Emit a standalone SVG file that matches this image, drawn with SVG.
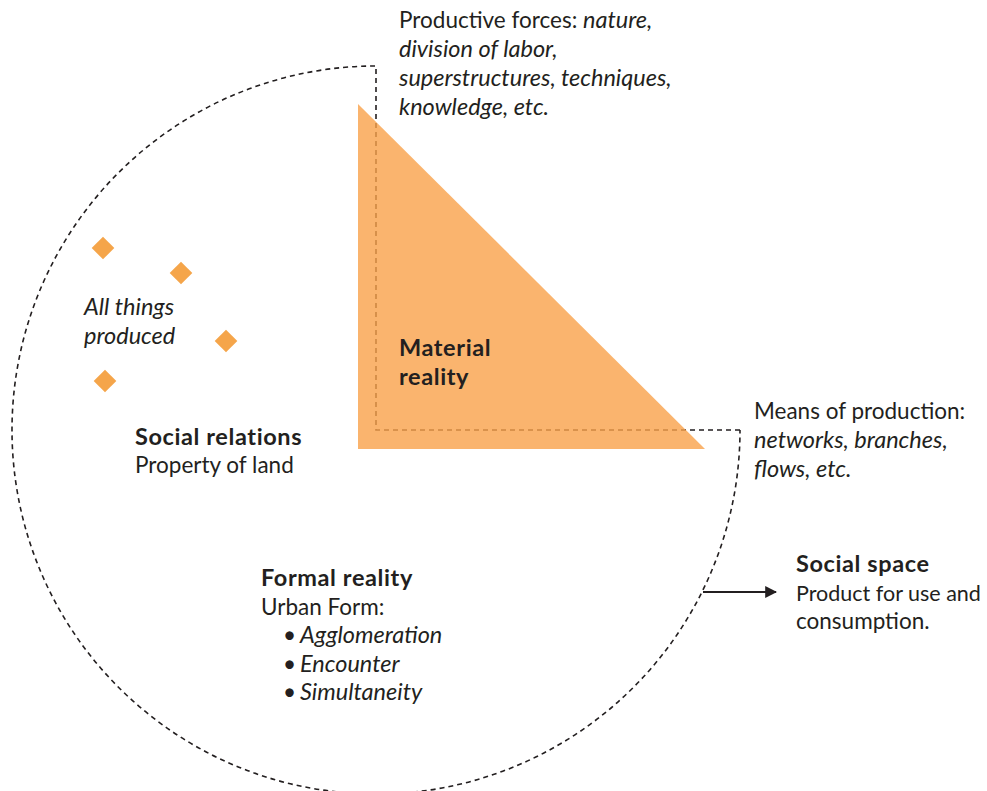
<svg xmlns="http://www.w3.org/2000/svg" width="987" height="791" viewBox="0 0 987 791">
<defs>
<style>
text{font-family:Lato,"Open Sans","Liberation Sans",sans-serif;font-size:22.5px;fill:#231f20}
.b{font-weight:bold;font-size:23.5px;letter-spacing:0.6px}
.i{font-style:italic;font-size:23.5px}
.dash{fill:none;stroke:#231f20;stroke-width:1.6;stroke-dasharray:5 4}
.dia{fill:#f5a54a}
</style>
<marker id="ah" viewBox="0 0 10 10" refX="9" refY="5" markerWidth="12" markerHeight="12" markerUnits="userSpaceOnUse" orient="auto">
<path d="M0,0 L10,5 L0,10 z" fill="#231f20"/>
</marker>
</defs>
<rect width="987" height="791" fill="#ffffff"/>
<g id="connectors">
<path class="dash" d="M740 430 L376 430 L376 66 A364 364 0 1 0 740 430"/>
<line x1="703" y1="592" x2="776" y2="592" stroke="#231f20" stroke-width="2" marker-end="url(#ah)"/>
</g>
<g id="material-reality">
<polygon points="358,104 358,449 705,449" fill="#f9a14a" fill-opacity="0.8"/>
<text class="b" x="399" y="356">Material</text>
<text class="b" x="399" y="385">reality</text>
</g>
<g id="productive-forces">
<text x="399" y="28">Productive forces: <tspan class="i">nature,</tspan></text>
<text class="i" x="399" y="57">division of labor,</text>
<text class="i" x="399" y="86">superstructures, techniques,</text>
<text class="i" x="399" y="115">knowledge, etc.</text>
</g>
<g id="means-of-production">
<text x="754" y="419">Means of production:</text>
<text class="i" x="754" y="448">networks, branches,</text>
<text class="i" x="754" y="477">flows, etc.</text>
</g>
<g id="all-things-produced">
<rect class="dia" x="95" y="240" width="16" height="16" transform="rotate(45 103 248)"/>
<rect class="dia" x="173" y="265" width="16" height="16" transform="rotate(45 181 273)"/>
<rect class="dia" x="218" y="333" width="16" height="16" transform="rotate(45 226 341)"/>
<rect class="dia" x="97" y="373" width="16" height="16" transform="rotate(45 105 381)"/>
<text class="i" x="84" y="315">All things</text>
<text class="i" x="84" y="344">produced</text>
</g>
<g id="social-relations">
<text class="b" x="135" y="445">Social relations</text>
<text x="135" y="473">Property of land</text>
</g>
<g id="formal-reality">
<text class="b" x="261" y="586">Formal reality</text>
<text x="261" y="615">Urban Form:</text>
<text x="283" y="643">• <tspan class="i" x="300">Agglomeration</tspan></text>
<text x="283" y="672">• <tspan class="i" x="300">Encounter</tspan></text>
<text x="283" y="700">• <tspan class="i" x="300">Simultaneity</tspan></text>
</g>
<g id="social-space">
<text class="b" x="796" y="572">Social space</text>
<text x="796" y="601" style="font-size:21.5px">Product for use and</text>
<text x="796" y="629">consumption.</text>
</g>
</svg>
